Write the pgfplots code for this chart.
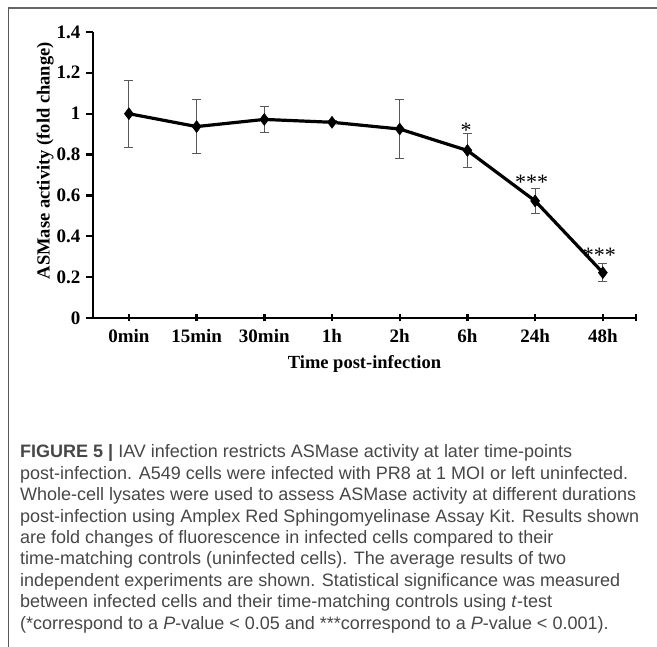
\documentclass[border=0pt]{standalone}
\usepackage{fontspec}
\setmainfont{Liberation Serif}
\newfontfamily\capfont{Liberation Sans}
\usepackage{pgfplots}
\pgfplotsset{compat=1.18}
\definecolor{capgray}{gray}{0.28}
\definecolor{errgray}{gray}{0.35}
\begin{document}
\begin{tikzpicture}[x=1bp,y=1bp]
% frame of the figure (top and left rules)
\draw[gray!80!black, line width=1.6bp] (8,639) -- (657,639);
\draw[gray!70!black, line width=1bp] (8,639.8) -- (8,0);
\begin{axis}[
  at={(93bp,329bp)}, anchor=south west,
  scale only axis, width=543bp, height=286bp,
  xmin=-0.53, xmax=7.49, ymin=0, ymax=1.4,
  axis x line*=bottom, axis y line*=left,
  axis line style={line width=2.6bp, -},
  xtick={0,1,2,3,4,5,6,7}, xticklabels={0min,15min,30min,1h,2h,6h,24h,48h},
  extra x ticks={7.49}, extra x tick labels={},
  ytick={0,0.2,0.4,0.6,0.8,1,1.2,1.4},
  major tick length=7bp,
  x tick style={line width=2.4bp, black},
  y tick style={line width=2.4bp, black},
  xtick align=center, ytick align=outside,
  tick label style={font=\fontsize{19bp}{20bp}\bfseries},
  /pgf/number format/assume math mode=true,
  xticklabel style={yshift=-4bp},
  yticklabel style={xshift=-2bp},
  xlabel={Time post-infection},
  ylabel={ASMase activity (fold change)},
  label style={font=\fontsize{18.5bp}{20bp}\bfseries},
  xlabel style={yshift=1bp},
  ylabel style={at={(axis description cs:-0.088,0.55)}, anchor=center},
  clip=false,
]
\addplot+[black, line width=3.2bp, mark=diamond*, mark size=6bp,
  mark options={black, solid, line width=0.5bp},
  error bars/.cd, y dir=both, y explicit,
  error bar style={errgray, line width=1bp},
  error mark options={rotate=90, mark size=4.5bp, errgray, line width=1bp}]
coordinates {
(0,1.000) +- (0,0.163)
(1,0.937) +- (0,0.133)
(2,0.972) +- (0,0.062)
(3,0.958) +- (0,0.008)
(4,0.925) +- (0,0.145)
(5,0.820) +- (0,0.081)
(6,0.573) +- (0,0.062)
(7,0.222) +- (0,0.043)
};
\node[font=\fontsize{22bp}{22bp}\selectfont, anchor=center] at (axis cs:4.98,0.92) {*};
\node[font=\fontsize{22bp}{22bp}\selectfont, anchor=center] at (axis cs:5.95,0.665) {***};
\node[font=\fontsize{22bp}{22bp}\selectfont, anchor=center] at (axis cs:6.95,0.305) {***};
\end{axis}
% caption
\begin{scope}[every node/.style={anchor=base west, inner sep=0pt, text=capgray, font=\capfont\fontsize{18bp}{20bp}\selectfont}]
\node at (20,{647-458.0}) {\textbf{FIGURE 5 |} IAV infection restricts ASMase activity at later time-points};
\node at (20,{647-479.4}) {post-infection. A549 cells were infected with PR8 at 1 MOI or left uninfected.};
\node at (20,{647-500.8}) {Whole-cell lysates were used to assess ASMase activity at different durations};
\node at (20,{647-522.2}) {post-infection using Amplex Red Sphingomyelinase Assay Kit. Results shown};
\node at (20,{647-543.6}) {are fold changes of fluorescence in infected cells compared to their};
\node at (20,{647-565.0}) {time-matching controls (uninfected cells). The average results of two};
\node at (20,{647-586.4}) {independent experiments are shown. Statistical significance was measured};
\node at (20,{647-607.8}) {between infected cells and their time-matching controls using \textit{t}-test};
\node at (20,{647-629.2}) {(*correspond to a \textit{P}-value < 0.05 and ***correspond to a \textit{P}-value < 0.001).};
\end{scope}
\pgfresetboundingbox
\useasboundingbox (0,0) rectangle (657,647);
\end{tikzpicture}
\end{document}
